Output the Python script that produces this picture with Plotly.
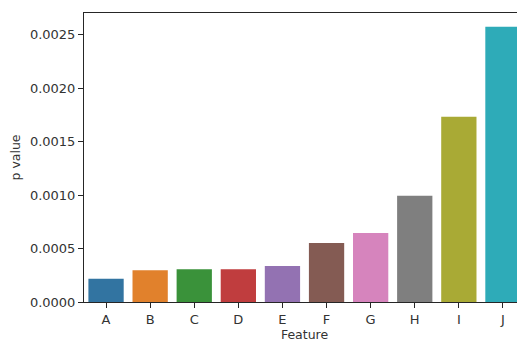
import plotly.graph_objects as go

features = ["A", "B", "C", "D", "E", "F", "G", "H", "I", "J"]
p_values = [0.000218, 0.000297, 0.000306, 0.000306, 0.000337, 0.000552, 0.000646, 0.000995, 0.001732, 0.002575]
colors = ["#3274a1", "#e1812c", "#3a923a", "#c03d3e", "#9372b2",
          "#845b53", "#d684bd", "#7f7f7f", "#a9aa35", "#2eabb8"]
y_ticks = [0.0, 0.0005, 0.0010, 0.0015, 0.0020, 0.0025]
y_tick_labels = ["0.0000", "0.0005", "0.0010", "0.0015", "0.0020", "0.0025"]

fig = go.Figure(go.Bar(
    x=features, y=p_values, marker_color=colors,
    marker_line_width=0, width=0.8,
))

# page body has an 8px default margin, so the figure is offset by (8, 8)
font = dict(family="DejaVu Sans", size=12, color="#333333")
fig.update_layout(
    width=517, height=334,
    margin=dict(l=76, r=0, t=5, b=40),
    plot_bgcolor="white", paper_bgcolor="white",
    font=font, showlegend=False,
)
fig.update_xaxes(
    range=[-0.5, 9.5], showline=True, linecolor="#262626", linewidth=1,
    mirror=True, ticks="outside", ticklen=5, tickcolor="#262626",
    tickfont=dict(size=13),
    showgrid=False, automargin=False,
    title=dict(text="Feature", font=dict(size=12.5), standoff=5),
)
fig.update_yaxes(
    range=[0, 1.05 * max(p_values)], showline=True, linecolor="#262626", linewidth=1,
    ticks="outside", ticklen=5, tickcolor="#262626", showgrid=False, zeroline=False,
    tickvals=y_ticks, ticktext=y_tick_labels, automargin=False,
    tickfont=dict(size=13),
    title=dict(text="p value", font=dict(size=12.5), standoff=8),
)

fig.write_html("out.html")
